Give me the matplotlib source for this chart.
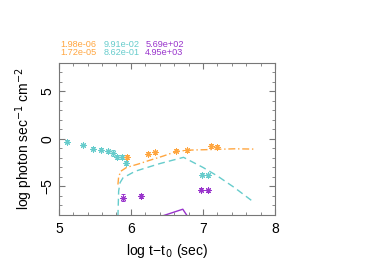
import matplotlib
matplotlib.use('Agg')
import matplotlib.pyplot as plt
from matplotlib.ticker import MultipleLocator

plt.rcParams['font.family'] = ['Liberation Sans', 'DejaVu Sans']

orange = '#ffa640'
cyan = '#66cccc'
purple = '#9933cc'

# points (log t, log flux)
cyan_x = [5.115, 5.34, 5.48, 5.59, 5.68, 5.75, 5.81, 5.87, 5.93, 6.98, 7.065]
cyan_y = [-0.28, -0.62, -1.04, -1.15, -1.32, -1.46, -1.88, -1.94, -2.53, -3.75, -3.82]
cyan_err = [0.15, 0.1, 0.15, 0.15, 0.15, 0.3, 0.2, 0.2, 0.25, 0.15, 0.15]

orange_x = [5.94, 6.24, 6.33, 6.63, 6.78, 7.11, 7.20]
orange_y = [-1.88, -1.56, -1.42, -1.25, -1.18, -0.73, -0.80]
orange_err = [0.2, 0.15, 0.15, 0.15, 0.15, 0.2, 0.15]

purple_x = [5.89, 6.14, 6.97, 7.065]
purple_y = [-6.18, -6.04, -5.35, -5.42]
purple_err = [0.35, 0.2, 0.15, 0.15]

# model curves
orange_lx = [5.82, 5.83, 5.86, 5.94, 6.10, 6.24, 6.45, 6.63, 6.80, 7.10, 7.44, 7.70]
orange_ly = [-4.8, -4.0, -3.4, -3.0, -2.65, -2.3, -1.8, -1.32, -1.18, -1.12, -1.04, -1.07]

cyan_lx = [5.82, 5.83, 5.85, 5.89, 6.06, 6.40, 6.73, 7.00, 7.20, 7.44, 7.67]
cyan_ly = [-8.2, -5.5, -4.6, -4.1, -3.4, -2.6, -1.94, -3.0, -3.9, -5.14, -6.46]

purple_lx = [6.40, 6.72, 6.79]
purple_ly = [-8.2, -7.4, -8.2]

labels = [['1.98e-06', '1.72e-05'], ['9.91e-02', '8.62e-01'], ['5.69e+02', '4.95e+03']]

fig = plt.figure(figsize=(3.82, 2.70), dpi=100)
ax = fig.add_axes([0.154, 0.204, 0.566, 0.563])

ax.plot(orange_lx, orange_ly, color=orange, lw=1.0, dashes=[5, 2, 1, 2])
ax.plot(cyan_lx, cyan_ly, color=cyan, lw=1.0, dashes=[5, 3])
ax.plot(purple_lx, purple_ly, color=purple, lw=1.0)

for xs, ys, es, c in [(cyan_x, cyan_y, cyan_err, cyan),
                      (orange_x, orange_y, orange_err, orange),
                      (purple_x, purple_y, purple_err, purple)]:
    ax.errorbar(xs, ys, yerr=es, fmt='none', ecolor=c,
                elinewidth=0.7, capsize=1.5, capthick=0.7)
    ax.plot(xs, ys, ls='none', marker=(8, 2, 0), color=c, ms=4.5, mew=0.7)

ax.set_xlim(5, 8)
ax.set_ylim(-8, 8)
ax.xaxis.set_major_locator(MultipleLocator(1))
ax.xaxis.set_minor_locator(MultipleLocator(0.2))
ax.yaxis.set_major_locator(MultipleLocator(5))
ax.yaxis.set_minor_locator(MultipleLocator(1))
ax.tick_params(which='both', direction='in', top=True, right=True,
               color='#777777', labelsize=10)
ax.tick_params(which='major', length=4, pad=5)
ax.tick_params(which='minor', length=2)
ax.tick_params(axis='y', which='major', labelrotation=90, pad=3)
for t in ax.get_yticklabels():
    t.set_va('center')
for s in ax.spines.values():
    s.set_color('#777777')

ax.set_xlabel('log t\u2212t$_{\\,0}$ (sec)', fontsize=10)
ax.set_ylabel('log photon sec$^{-1}$ cm$^{-2}$', fontsize=10)
ax.xaxis.set_label_coords(0.5, -0.18)
ax.yaxis.set_label_coords(-0.11, 0.5)

cols = [orange, cyan, purple]
xpos = [0.157, 0.27, 0.38]
for lab, c, xp in zip(labels, cols, xpos):
    fig.text(xp, 0.825, lab[0], color=c, fontsize=6.6)
    fig.text(xp, 0.795, lab[1], color=c, fontsize=6.6)

fig.savefig('out.png', dpi=100)
